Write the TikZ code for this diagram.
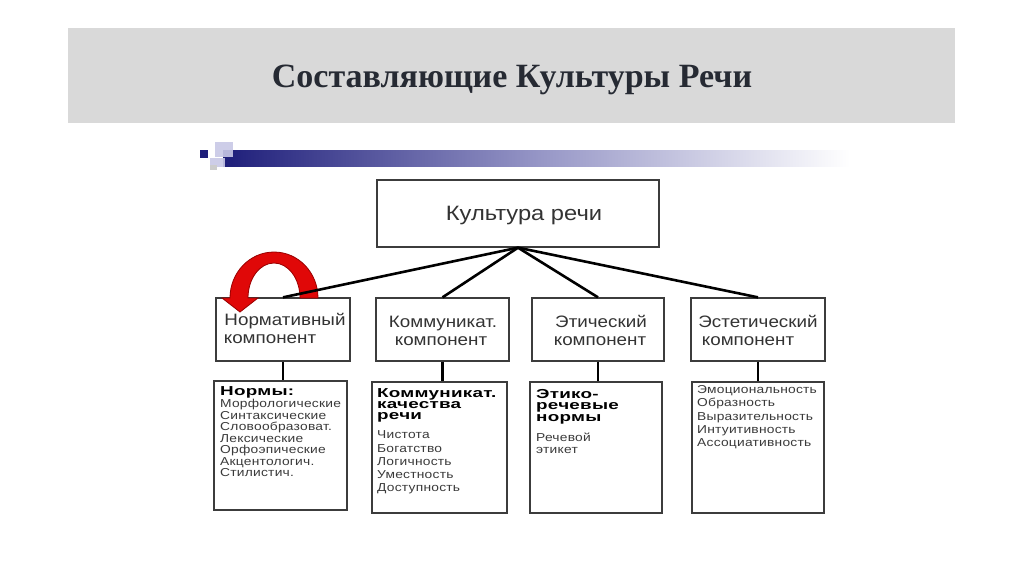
\documentclass[tikz,border=0pt]{standalone}
\usepackage{fontspec}
\setmainfont{Liberation Sans}
\newfontfamily\titlefont{Liberation Serif}
\newfontfamily\compfont[FakeStretch=1.14]{Liberation Sans}
\newfontfamily\listfont[FakeStretch=1.2,LetterSpace=2]{Liberation Sans}
\newfontfamily\headfont[FakeStretch=1.45,LetterSpace=2]{Liberation Sans}
\definecolor{band}{HTML}{D9D9D9}
\definecolor{titlegray}{HTML}{262A33}
\definecolor{navyb}{HTML}{1E1E7A}
\definecolor{lav}{HTML}{C8C8E6}
\definecolor{boxline}{HTML}{3C3C3C}
\definecolor{txt}{HTML}{333333}
\definecolor{listc}{HTML}{3A3A3A}
\definecolor{redfill}{HTML}{E00808}
\definecolor{redline}{HTML}{9A0000}
\tikzset{
  box/.style={draw=boxline,line width=1.3pt,fill=white,inner sep=0pt},
  comptext/.style={font=\compfont\fontsize{16.5}{19}\selectfont,text=txt,anchor=base,inner sep=0pt},
  conn/.style={line width=2.6pt,black},
  vconn/.style={line width=2.8pt,black},
  itemtext/.style={anchor=base west,inner sep=0pt,text=listc,font=\listfont\fontsize{11.5}{12}\selectfont},
  headtext/.style={anchor=base west,inner sep=0pt,text=black,font=\headfont\bfseries\fontsize{13}{13}\selectfont},
}
\begin{document}
\begin{tikzpicture}[x=1pt,y=-1pt]
\useasboundingbox (0,0) rectangle (1024,574);
\fill[white] (0,0) rectangle (1024,574);
% title band
\fill[band] (68,28) rectangle (955,123);
\node[font=\titlefont\bfseries\fontsize{34}{38}\selectfont,text=titlegray,anchor=base,inner sep=0pt] (title) at (512,87) {Составляющие Культуры Речи};
% decorative bar
\shade[left color=navyb,right color=white,middle color=lav!70!navyb] (223,150) rectangle (850,166);
\fill[navyb] (200,150) rectangle (208,158);
\fill[lav,opacity=0.9] (215,142) rectangle (233,157);
\fill[lav,opacity=0.9] (210,158) rectangle (225,167);
\fill[gray!40] (210,165) rectangle (217,170);
% top box
\node[box,minimum width=282pt,minimum height=67pt] (top) at (518,213.5) {};
\node[font=\compfont\fontsize{20.8}{24}\selectfont,text=txt,anchor=base,inner sep=0pt] (toptext) at (524,220) {Культура речи};
% component boxes
\node[box,minimum width=134pt,minimum height=63pt] (c1) at (283,329.5) {};
\node[box,minimum width=133pt,minimum height=63pt] (c2) at (442.5,329.5) {};
\node[box,minimum width=132pt,minimum height=63pt] (c3) at (598,329.5) {};
\node[box,minimum width=134pt,minimum height=63pt] (c4) at (758,329.5) {};
\node[comptext] (c1a) at (285,325) {Нормативный};
\node[comptext] (c1b) at (270,343) {компонент};
\node[comptext] (c2a) at (443,327) {Коммуникат.};
\node[comptext] (c2b) at (441,345) {компонент};
\node[comptext] (c3a) at (601,327) {Этический};
\node[comptext] (c3b) at (600,345) {компонент};
\node[comptext] (c4a) at (758,327) {Эстетический};
\node[comptext] (c4b) at (748,345) {компонент};
% lower boxes
\node[box,minimum width=133pt,minimum height=129pt] (l1) at (280.5,445.5) {};
\node[box,minimum width=135pt,minimum height=131pt] (l2) at (439.5,447.5) {};
\node[box,minimum width=132pt,minimum height=131pt] (l3) at (596,447.5) {};
\node[box,minimum width=132pt,minimum height=131pt] (l4) at (758,447.5) {};
% red arrow
\filldraw[fill=redfill,draw=redline,line width=0.8pt]
  (318,298) arc[start angle=0,end angle=-180,x radius=44,y radius=46]
  -- (222,298) -- (240,312) -- (258,298) -- (248,298)
  arc[start angle=-180,end angle=0,x radius=26,y radius=35] -- cycle;
% connectors
\foreach \c in {c1,c2,c3,c4}{\draw[conn] (top.south) -- (\c.north);}
\draw[vconn] (c1.south) -- (c1.south |- l1.north);
\draw[vconn] (c2.south) -- (c2.south |- l2.north);
\draw[vconn] (c3.south) -- (c3.south |- l3.north);
\draw[vconn] (c4.south) -- (c4.south |- l4.north);
% box 1 texts
\node[headtext] (h1) at (220,395) {Нормы:};
\foreach \t/\yy [count=\i] in {Морфологические/407.5,Синтаксические/419,Словообразоват./430.5,Лексические/442,Орфоэпические/453.5,Акцентологич./465,Стилистич./476.5}
  {\node[itemtext] (a\i) at (220,\yy) {\t};}
% box 2 texts
\foreach \t/\yy [count=\i] in {Коммуникат./397,качества/408,речи/419}
  {\node[headtext] (h2\i) at (377,\yy) {\t};}
\foreach \t/\yy [count=\i] in {Чистота/438,Богатство/452,Логичность/465,Уместность/478,Доступность/491}
  {\node[itemtext] (b\i) at (377,\yy) {\t};}
% box 3 texts
\foreach \t/\yy [count=\i] in {Этико-/398,речевые/409.5,нормы/421}
  {\node[headtext] (h3\i) at (536,\yy) {\t};}
\foreach \t/\yy [count=\i] in {Речевой/441,этикет/453}
  {\node[itemtext] (d\i) at (536,\yy) {\t};}
% box 4 texts
\foreach \t/\yy [count=\i] in {Эмоциональность/393,Образность/406,Выразительность/420,Интуитивность/433,Ассоциативность/446}
  {\node[itemtext] (e\i) at (697,\yy) {\t};}
\end{tikzpicture}
\end{document}
